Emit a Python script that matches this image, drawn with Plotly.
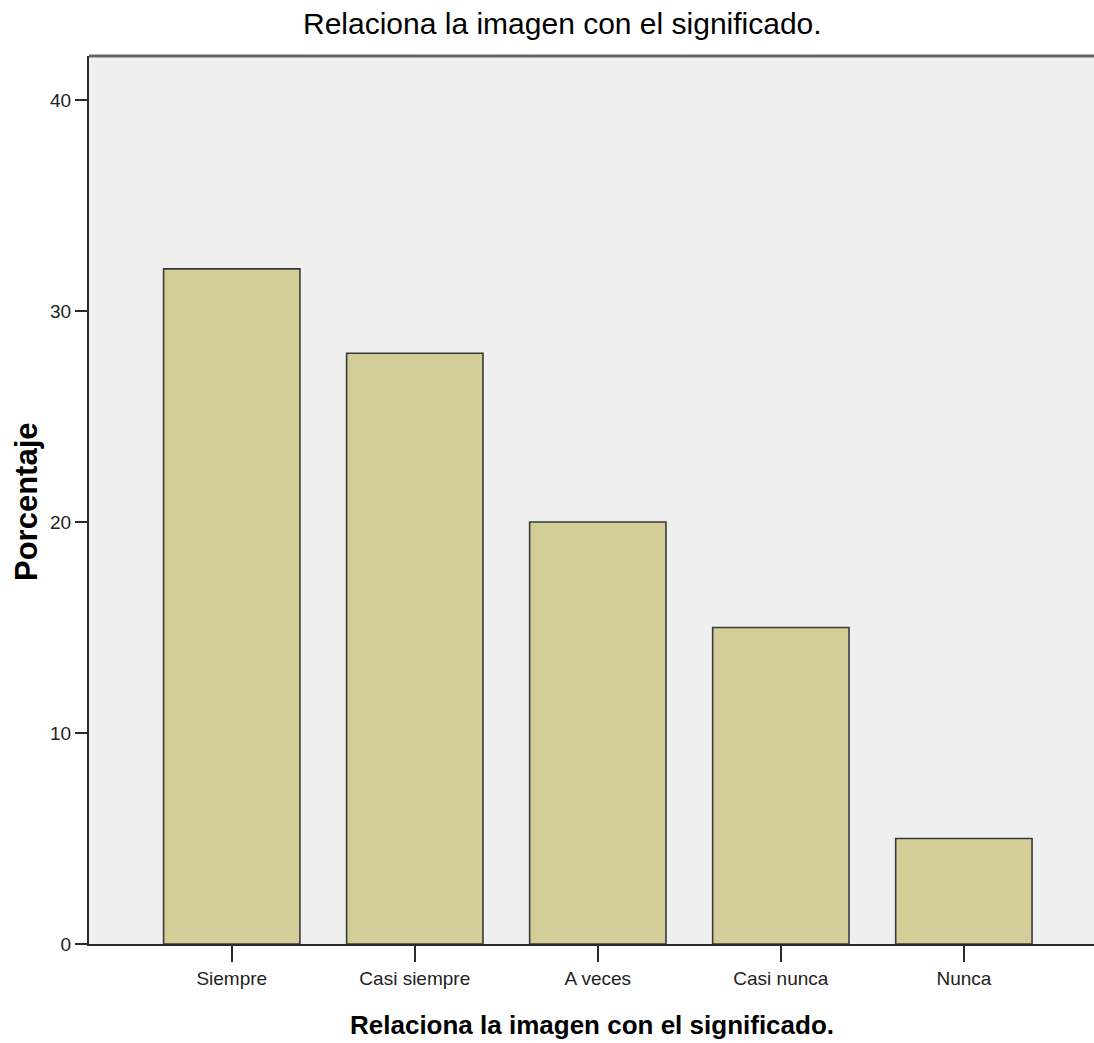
import plotly.graph_objects as go

categories = ["Siempre", "Casi siempre", "A veces", "Casi nunca", "Nunca"]
values = [32, 28, 20, 15, 5]
y_ticks = [0, 10, 20, 30, 40]

title_text = "Relaciona la imagen con el significado."
y_title = "Porcentaje"
sans = "Liberation Sans, Arial, sans-serif"

W, H = 1094, 1043
L, R, T, B = 89, 0, 56, 99
pw, ph = W - L - R, H - T - B

def px_x(px):
    return (px - L) / pw

def px_y(py):
    return (H - B - py) / ph

fig = go.Figure()
fig.add_trace(go.Bar(
    x=categories,
    y=values,
    width=0.745,
    marker=dict(color="#D3CE97", line=dict(color="#3a3a3a", width=1.6)),
))

fig.update_layout(
    width=W,
    height=H,
    margin=dict(l=L, r=R, t=T, b=B, pad=0),
    paper_bgcolor="white",
    plot_bgcolor="#EFEFEF",
    showlegend=False,
    xaxis=dict(
        type="category",
        range=[-0.780, 4.711],
        showline=True, linecolor="#2a2a2a", linewidth=2,
        ticks="outside", ticklen=16, tickwidth=1.5, tickcolor="#2a2a2a",
        tickfont=dict(family=sans, size=19, color="#222"),
        showgrid=False, zeroline=False,
    ),
    yaxis=dict(
        range=[0, 42.09],
        tickvals=y_ticks,
        showline=True, linecolor="#2a2a2a", linewidth=2,
        ticks="outside", ticklen=12, tickwidth=1.5, tickcolor="#2a2a2a",
        tickfont=dict(family=sans, size=19, color="#222"),
        showgrid=False, zeroline=False,
    ),
    annotations=[
        dict(text=title_text, xref="paper", yref="paper",
             x=px_x(562), y=px_y(24), xanchor="center", yanchor="middle",
             showarrow=False, font=dict(family=sans, size=30, color="black")),
        dict(text="<b>" + title_text + "</b>", xref="paper", yref="paper",
             x=px_x(592), y=px_y(1025), xanchor="center", yanchor="middle",
             showarrow=False, font=dict(family=sans, size=26, color="black")),
        dict(text="<b>" + y_title + "</b>", xref="paper", yref="paper",
             x=px_x(26), y=px_y(502), xanchor="center", yanchor="middle",
             textangle=-90,
             showarrow=False, font=dict(family=sans, size=31, color="black")),
    ],
)

# top border line of the plot frame
fig.add_shape(type="line", xref="paper", yref="paper", x0=0, x1=1, y0=1, y1=1,
              line=dict(color="#666", width=3))

fig.write_html("out.html", config={"displayModeBar": False},
               post_script="document.body.style.margin='0';")
